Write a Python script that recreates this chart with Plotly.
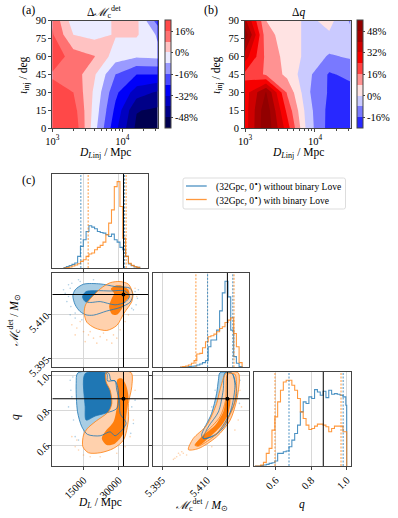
import numpy as np
import plotly.graph_objects as go

W = 398
H = 518
SERIF = "Liberation Serif"
BLUE = "#1f77b4"
ORANGE = "#ff7f0e"
BLUE_LINE = "rgba(31,119,180,0.8)"
ORANGE_LINE = "rgba(255,127,14,0.8)"
BLUE_FILL = "#a8cde4"
ORANGE_FILL = "#ffd1ad"
FRAME = "#444444"

# ---- heatmap panels
dist_inj = [1000, 2000, 4000, 8000, 16000, 32000]
incl_inj = [0, 15, 30, 45, 60, 78, 90]
delta_mc = [
    [20, 23, -5, -30, -50, -53],
    [20, 20, -3, -26, -47.5, -49.5],
    [19, 16, -1.5, -22, -36, -41],
    [15, 13, 1, -16, -24, -24],
    [22, 12, 8.3, -4, -7, -6],
    [17, 0, -2.5, 0.6, 1, -9],
    [15, -4.5, -4, 1, 2, -20],
]
delta_q = [
    [28, 55, 28, -4, -19, -19],
    [28, 54, 22, -5, -18.5, -19],
    [28, 48.5, 15, -7, -17, -19],
    [22, 15, 6, -6, -17, -14],
    [36, 14, 5, -2.5, -9, -7],
    [54, 11, 4, -2, -1, -6],
    [42, 8, 4, -2, 2.7, -9],
]
mc_ticks = [16, 0, -16, -32, -48]
q_ticks = [48, 32, 16, 0, -16]
minor_dist = [2000, 3000, 4000, 5000, 6000, 7000, 8000, 9000, 20000, 30000]

# ---- corner panels: truth and credible bounds
truth_dl = 32000
truth_mc = 5.4168
truth_q = 0.868
dl_bounds_blue = [13870, 32400]
dl_bounds_orange = [16980, 33100]
mc_bounds_blue = [5.4102, 5.4186]
mc_bounds_orange = [5.4063, 5.4190]
q_bounds_blue = [0.675, 0.98]
q_bounds_orange = [0.596, 0.968]
legend_names = ["(32Gpc, 0<sup>∘</sup>) without binary Love", "(32Gpc, 0<sup>∘</sup>) with binary Love"]

# ---- 1d histograms
dl_edges = [6500, 7700, 8900, 10100, 11300, 12500, 13700, 14900, 16100, 17300, 18500, 19700, 20900, 22100,
            23300, 24500, 25700, 26900, 28100, 29300, 30500, 31700, 32900, 34100, 35300, 36500, 37700, 38900]
dl_blue = [1, 4, 7, 11, 15, 35, 65, 85, 110, 127, 123, 118, 110, 107, 105, 100, 95, 102, 85, 78, 62, 55, 35, 12, 7, 3, 2, 0]
dl_orange = [0, 1, 3, 6, 9, 13, 20, 25, 35, 42, 45, 55, 62, 68, 78, 100, 135, 175, 245, 260, 185, 90, 35, 14, 8, 4, 2, 0]

mc_edges = [5.4010, 5.4019, 5.4029, 5.4038, 5.4048, 5.4057, 5.4066, 5.4076, 5.4085, 5.4095, 5.4104, 5.4113,
            5.4123, 5.4132, 5.4142, 5.4151, 5.4160, 5.4170, 5.4179, 5.4189, 5.4198, 5.4207, 5.4217]
mc_blue = [0, 0, 1, 2, 3, 4, 7, 10, 14, 20, 62, 82, 82, 112, 170, 224, 259, 212, 112, 32, 12, 2, 0]
mc_orange = [1, 2, 4, 7, 12, 20, 40, 42, 59, 77, 92, 95, 100, 107, 117, 122, 135, 142, 149, 102, 62, 14, 1]

q_edges = [0.483, 0.499, 0.515, 0.531, 0.547, 0.563, 0.579, 0.595, 0.611, 0.627, 0.643, 0.659, 0.675, 0.691, 0.707, 0.723, 0.739,
           0.755, 0.771, 0.787, 0.803, 0.819, 0.835, 0.851, 0.867, 0.883, 0.899, 0.915, 0.931, 0.947, 0.963, 0.979, 0.995, 1.0, 1.0]
q_blue = [0, 0, 1, 3, 5, 8, 10, 15, 38, 38, 43, 45, 58, 78, 98, 123, 163, 193, 188, 208, 203, 230, 223, 213, 225, 206, 228,
          216, 218, 216, 213, 208, 183, 100, 0]
q_orange = [0, 0, 3, 11, 38, 53, 108, 148, 193, 228, 253, 258, 258, 243, 228, 203, 163, 143, 123, 110, 113, 120, 126, 126,
            123, 118, 103, 113, 120, 120, 120, 103, 103, 103, 0]

# ---- 2d credible regions (dl, mc)
dm_blue_outer_x = [10470, 11460, 15000, 22080, 28440, 34810, 35940, 34810, 30570, 24900, 19250, 16130, 13580, 11460]
dm_blue_outer_y = [5.4164, 5.4184, 5.4203, 5.4204, 5.4195, 5.4189, 5.4167, 5.4142, 5.4124, 5.4112, 5.4098, 5.4099, 5.4110, 5.4133]
dm_blue_inner_x = [14580, 16130, 20660, 26320, 32690, 34530, 32690, 28440, 22080, 18110, 15710]
dm_blue_inner_y = [5.4161, 5.4178, 5.4181, 5.4180, 5.4180, 5.4161, 5.4142, 5.4133, 5.4144, 5.4141, 5.4144]
dm_orange_outer_x = [15280, 15850, 17830, 22080, 26320, 30570, 34100, 35940, 35520, 32260, 29150, 24900, 19950, 16420]
dm_orange_outer_y = [5.4105, 5.4133, 5.4153, 5.4187, 5.4208, 5.4212, 5.4203, 5.4172, 5.4144, 5.4105, 5.4063, 5.4046, 5.4054, 5.4074]
dm_orange_inner_x = [26600, 28440, 31270, 34100, 34530, 32690, 31270, 29150, 27030, 25900, 27030, 28020]
dm_orange_inner_y = [5.4187, 5.4198, 5.4198, 5.4184, 5.4161, 5.4144, 5.4119, 5.4099, 5.4102, 5.4127, 5.4155, 5.4172]

# (dl, q)
dq_blue_outer_x = [12590, 25610, 26600, 28440, 29150, 30280, 30570, 33110, 28440, 26320, 22080, 16700, 14290, 12450, 11890]
dq_blue_outer_y = [1.017, 1.017, 0.975, 0.971, 0.917, 0.860, 0.783, 0.725, 0.654, 0.677, 0.654, 0.662, 0.706, 0.793, 0.956]
dq_blue_inner_x = [15710, 24900, 25190, 28440, 29860, 29150, 24900, 19950, 16130, 15710]
dq_blue_inner_y = [1.013, 1.013, 0.971, 0.971, 0.908, 0.812, 0.787, 0.768, 0.745, 0.821]
dq_orange_outer_x = [24620, 24620, 26320, 27030, 25610, 19950, 16700, 15000, 14720, 17120, 22080, 27740, 31980, 34100, 34100, 35520, 35230]
dq_orange_outer_y = [1.019, 0.965, 0.917, 0.841, 0.793, 0.735, 0.697, 0.658, 0.591, 0.556, 0.556, 0.581, 0.629, 0.745, 0.841, 0.937, 1.019]
dq_orange_inner_x = [29430, 31270, 33110, 34100, 33110, 31980, 28440, 24900, 22780, 24200, 27740, 29150, 29430]
dq_orange_inner_y = [0.979, 0.985, 0.946, 0.879, 0.764, 0.668, 0.610, 0.601, 0.639, 0.677, 0.735, 0.821, 0.917]

# (mc, q)
mq_blue_outer_x = [5.4143, 5.4165, 5.4184, 5.4199, 5.4182, 5.4132, 5.4088, 5.4082, 5.4115, 5.4132, 5.4138]
mq_blue_outer_y = [1.0175, 1.021, 1.0136, 0.898, 0.802, 0.667, 0.638, 0.657, 0.782, 0.898, 0.975]
mq_blue_inner_x = [5.4088, 5.4127, 5.4160, 5.4184, 5.4193, 5.4184, 5.4160, 5.4154, 5.4138, 5.4104]
mq_blue_inner_y = [0.638, 0.657, 0.715, 0.831, 0.946, 1.014, 1.018, 0.917, 0.792, 0.705]
mq_orange_outer_x = [5.4038, 5.4054, 5.4099, 5.4132, 5.4143, 5.4165, 5.4204, 5.4208, 5.4199, 5.4177, 5.4132, 5.4071]
mq_orange_outer_y = [0.574, 0.638, 0.715, 0.840, 0.917, 1.018, 1.018, 0.975, 0.860, 0.744, 0.648, 0.580]
mq_orange_inner_x = [5.4060, 5.4093, 5.4143, 5.4162, 5.4169, 5.4193, 5.4198, 5.4188, 5.4160, 5.4121, 5.4071]
mq_orange_inner_y = [0.599, 0.667, 0.763, 0.860, 1.010, 1.010, 0.937, 0.821, 0.725, 0.648, 0.594]
mq_orange_core_x = [5.4060, 5.4088, 5.4127, 5.4154, 5.4166, 5.4177, 5.4171, 5.4149, 5.4110, 5.4071]
mq_orange_core_y = [0.599, 0.657, 0.715, 0.792, 0.869, 0.869, 0.782, 0.715, 0.648, 0.594]

# ---- stray samples outside the contours
dm_dots_blue_x = [7220, 8630, 9340, 7930, 10050, 8630, 13580, 11460, 9620, 6510, 36930, 37920, 37360, 38350, 36220, 14290, 11460, 9340, 12880, 19250, 30570, 35520]
dm_dots_blue_y = [5.4172, 5.4161, 5.4189, 5.4144, 5.4206, 5.4201, 5.4212, 5.4105, 5.4127, 5.4184, 5.4178, 5.4155, 5.4133, 5.4184, 5.4116, 5.4082, 5.4088, 5.4099, 5.4218, 5.4218, 5.4105, 5.4121]
dm_dots_orange_x = [13580, 12170, 15000, 17120, 19250, 22080, 24900, 27740, 30570, 32690, 34100, 14290, 15710, 20660, 23490, 17830, 27030, 29150, 36930, 37640, 10050, 11460]
dm_dots_orange_y = [5.4076, 5.4054, 5.4042, 5.4031, 5.4020, 5.4025, 5.4014, 5.4031, 5.4048, 5.4076, 5.4099, 5.4110, 5.4008, 5.4003, 5.4037, 5.4042, 5.4003, 5.4020, 5.4189, 5.4161, 5.4065, 5.4031]
dq_dots_blue_x = [9340, 10050, 8630, 10760, 11460, 35520, 36220, 36930, 35090, 9620, 10470, 12880]
dq_dots_blue_y = [0.975, 0.879, 0.821, 0.745, 0.649, 0.821, 0.725, 0.860, 0.668, 0.917, 0.994, 0.629]
dq_dots_orange_x = [12170, 12880, 15000, 17830, 22080, 11460, 36220, 34810, 32690, 29150, 10050, 36930]
dq_dots_orange_y = [0.629, 0.572, 0.543, 0.533, 0.533, 0.591, 0.745, 0.649, 0.591, 0.553, 0.649, 0.917]
mq_dots_blue_x = [5.4127, 5.4116, 5.4093, 5.4077, 5.4210, 5.4208]
mq_dots_blue_y = [0.917, 0.821, 0.706, 0.658, 0.975, 0.841]
mq_dots_orange_x = [5.3988, 5.3999, 5.4010, 5.4021, 5.3993, 5.4016, 5.4032, 5.4005, 5.4210, 5.4215, 5.4204, 5.4193, 5.4116]
mq_dots_orange_y = [0.518, 0.533, 0.543, 0.553, 0.524, 0.562, 0.543, 0.553, 0.917, 0.821, 0.745, 0.687, 0.591]


def dom_x(a, b):
    return [a / W, b / W]


def dom_y(a, b):
    return [1 - b / H, 1 - a / H]


def seismic_scale(lo, hi):
    # matplotlib seismic, cut down to the lo..hi part of -56..56
    nodes = [(-56, (0, 0, 77)), (-28, (0, 0, 255)), (0, (255, 255, 255)), (28, (255, 0, 0)), (56, (128, 0, 0))]
    vals = [lo] + [n[0] for n in nodes if lo < n[0] < hi] + [hi]
    scale = []
    for v in vals:
        rgb = [np.interp(v, [n[0] for n in nodes], [n[1][c] for n in nodes]) for c in range(3)]
        scale.append([(v - lo) / (hi - lo), "rgb(%d,%d,%d)" % tuple(rgb)])
    return scale


fig = go.Figure()
AX = dict(showline=True, mirror=True, linecolor=FRAME, linewidth=1, zeroline=False,
          tickfont=dict(family=SERIF, size=10.5, color="black"), ticklen=3, tickwidth=1,
          tickcolor=FRAME, ticks="outside", automargin=False)


def heat_panel(n, px, z, lo, hi, ticks, cb_x):
    xname = "x%d" % n
    yname = "y%d" % n
    fig.add_trace(go.Contour(
        x=np.log10(dist_inj), y=incl_inj, z=z, xaxis=xname, yaxis=yname,
        # plotly stretches the scale over start - 4 .. end + 4 and paints each band at its middle
        zmin=lo, zmax=hi, colorscale=seismic_scale(lo - 4, hi - 4),
        contours=dict(start=lo, end=hi - 8, size=8, coloring="fill", showlines=False),
        line=dict(width=0, smoothing=0), hoverinfo="skip",
        colorbar=dict(x=cb_x / W, xanchor="left", y=1 - 128.3 / H, yanchor="bottom", len=107.8 / H,
                      thickness=6, xpad=0, ypad=0, outlinecolor=FRAME, outlinewidth=1,
                      tickvals=ticks, ticktext=["%d%%" % t for t in ticks], ticks="outside", ticklen=2,
                      tickfont=dict(family=SERIF, size=10.5, color="black")),
    ))
    fig.update_layout({
        "xaxis%d" % n: dict(AX, domain=dom_x(*px), range=[3, np.log10(32700)], tickvals=[3, 4],
                            ticktext=["10<sup>3</sup>", "10<sup>4</sup>"],
                            minor=dict(tickvals=list(np.log10(minor_dist)), ticks="outside", ticklen=2, tickcolor=FRAME),
                            anchor=yname),
        "yaxis%d" % n: dict(AX, domain=dom_y(20.5, 128.3), range=[0, 90], tickvals=[0, 15, 30, 45, 60, 75, 90], anchor=xname),
    })


heat_panel(1, (52.3, 158.3), delta_mc, -56, 24, mc_ticks, 165)
heat_panel(2, (245, 351), delta_q, -24, 56, q_ticks, 357)

COLS = [(52.3, 148.3), (153.3, 249.3), (254.3, 350.7)]
ROWS = [(174, 268), (273, 367.3), (372, 466)]
DL_RANGE = [1730, 42550]
MC_RANGE = [5.3921, 5.4241]
Q_RANGE = [0.4795, 1.0225]
DL_TICKS = [15000, 30000]
MC_TICKS = [5.395, 5.410]
Q_TICKS = [0.6, 0.8, 1.0]
GRID = dict(showgrid=True, gridcolor="#d8d8d8", gridwidth=1, tickangle=-45)


def corner_axes(n, col, row, xr, xt, yr, yt, xlab, ylab, xfmt, yfmt):
    xname = "x%d" % n
    yname = "y%d" % n
    fig.update_layout({
        "xaxis%d" % n: dict(AX, **GRID, domain=dom_x(*COLS[col]), range=xr, tickvals=xt, tickformat=xfmt,
                            showticklabels=xlab, anchor=yname),
        "yaxis%d" % n: dict(AX, **GRID, domain=dom_y(*ROWS[row]), range=yr, tickvals=yt, tickformat=yfmt,
                            showticklabels=ylab, anchor=xname),
    })


def hist_panel(n, col, edges, blue, orange, xr, xt, xlab, fmt, bounds_blue, bounds_orange, truth, y_max):
    corner_axes(n, col, col, xr, xt, [0, y_max], [], xlab, False, fmt, "")
    fig.update_layout({"yaxis%d" % n: dict(ticks="", showgrid=False)})
    ax = dict(xaxis="x%d" % n, yaxis="y%d" % n, mode="lines", line_shape="hv", hoverinfo="skip", showlegend=False)
    fig.add_trace(go.Scatter(x=edges, y=blue, line=dict(color=BLUE_LINE, width=1.1), **ax))
    fig.add_trace(go.Scatter(x=edges, y=orange, line=dict(color=ORANGE_LINE, width=1.1), **ax))
    for v in bounds_blue:
        fig.add_shape(type="line", x0=v, x1=v, y0=0, y1=y_max, xref="x%d" % n, yref="y%d" % n,
                      line=dict(color=BLUE_LINE, width=1, dash="2px,1.5px"))
    for v in bounds_orange:
        fig.add_shape(type="line", x0=v, x1=v, y0=0, y1=y_max, xref="x%d" % n, yref="y%d" % n,
                      line=dict(color=ORANGE_LINE, width=1, dash="2px,1.5px"))
    fig.add_shape(type="line", x0=truth, x1=truth, y0=0, y1=y_max, xref="x%d" % n, yref="y%d" % n,
                  line=dict(color="black", width=1))


def dots(n, xv, yv, color):
    fig.add_trace(go.Scatter(x=xv, y=yv, xaxis="x%d" % n, yaxis="y%d" % n, mode="markers", showlegend=False, hoverinfo="skip",
                             marker=dict(color=color, size=1.6, opacity=0.35, line_width=0)))


def region(n, xv, yv, fill=None, line=None):
    xc = list(xv) + [xv[0]]
    yc = list(yv) + [yv[0]]
    fig.add_trace(go.Scatter(x=xc, y=yc, xaxis="x%d" % n, yaxis="y%d" % n, mode="lines", showlegend=False, hoverinfo="skip",
                             line=dict(color=line or "rgba(0,0,0,0)", width=1, shape="spline", smoothing=0.8),
                             fill="toself" if fill else "none", fillcolor=fill))


def truth_cross(n, xv, yv, xr, yr):
    fig.add_shape(type="line", x0=xv, x1=xv, y0=yr[0], y1=yr[1], xref="x%d" % n, yref="y%d" % n, line=dict(color="black", width=1))
    fig.add_shape(type="line", x0=xr[0], x1=xr[1], y0=yv, y1=yv, xref="x%d" % n, yref="y%d" % n, line=dict(color="black", width=1))
    fig.add_trace(go.Scatter(x=[xv], y=[yv], xaxis="x%d" % n, yaxis="y%d" % n, mode="markers", showlegend=False, hoverinfo="skip",
                             marker=dict(color="black", size=4)))


hist_panel(3, 0, dl_edges, dl_blue, dl_orange, DL_RANGE, DL_TICKS, False, "d", dl_bounds_blue, dl_bounds_orange, truth_dl, 283)
hist_panel(4, 1, mc_edges, mc_blue, mc_orange, MC_RANGE, MC_TICKS, False, ".3f", mc_bounds_blue, mc_bounds_orange, truth_mc, 284)
hist_panel(5, 2, q_edges, q_blue, q_orange, Q_RANGE, Q_TICKS, True, ".1f", q_bounds_blue, q_bounds_orange, truth_q, 283)

corner_axes(6, 0, 1, DL_RANGE, DL_TICKS, MC_RANGE, MC_TICKS, False, True, "d", ".3f")
dots(6, dm_dots_blue_x, dm_dots_blue_y, BLUE)
dots(6, dm_dots_orange_x, dm_dots_orange_y, ORANGE)
region(6, dm_blue_outer_x, dm_blue_outer_y, fill=BLUE_FILL)
region(6, dm_blue_inner_x, dm_blue_inner_y, fill=BLUE)
region(6, dm_orange_outer_x, dm_orange_outer_y, fill=ORANGE_FILL)
region(6, dm_orange_inner_x, dm_orange_inner_y, fill=ORANGE)
region(6, dm_blue_outer_x, dm_blue_outer_y, line=BLUE_LINE)
region(6, dm_blue_inner_x, dm_blue_inner_y, line=BLUE_LINE)
region(6, dm_orange_outer_x, dm_orange_outer_y, line=ORANGE_LINE)
truth_cross(6, truth_dl, truth_mc, DL_RANGE, MC_RANGE)

corner_axes(7, 0, 2, DL_RANGE, DL_TICKS, Q_RANGE, Q_TICKS, True, True, "d", ".1f")
dots(7, dq_dots_blue_x, dq_dots_blue_y, BLUE)
dots(7, dq_dots_orange_x, dq_dots_orange_y, ORANGE)
region(7, dq_blue_outer_x, dq_blue_outer_y, fill=BLUE_FILL)
region(7, dq_blue_inner_x, dq_blue_inner_y, fill=BLUE)
region(7, dq_orange_outer_x, dq_orange_outer_y, fill=ORANGE_FILL)
region(7, dq_orange_inner_x, dq_orange_inner_y, fill=ORANGE)
region(7, dq_blue_outer_x, dq_blue_outer_y, line=BLUE_LINE)
region(7, dq_blue_inner_x, dq_blue_inner_y, line=BLUE_LINE)
region(7, dq_orange_outer_x, dq_orange_outer_y, line=ORANGE_LINE)
truth_cross(7, truth_dl, truth_q, DL_RANGE, Q_RANGE)

corner_axes(8, 1, 2, MC_RANGE, MC_TICKS, Q_RANGE, Q_TICKS, True, False, ".3f", ".1f")
dots(8, mq_dots_blue_x, mq_dots_blue_y, BLUE)
dots(8, mq_dots_orange_x, mq_dots_orange_y, ORANGE)
region(8, mq_blue_outer_x, mq_blue_outer_y, fill=BLUE_FILL)
region(8, mq_orange_outer_x, mq_orange_outer_y, fill=ORANGE_FILL)
region(8, mq_orange_core_x, mq_orange_core_y, fill=ORANGE)
region(8, mq_blue_outer_x, mq_blue_outer_y, line=BLUE_LINE)
region(8, mq_blue_inner_x, mq_blue_inner_y, line=BLUE_LINE)
region(8, mq_orange_outer_x, mq_orange_outer_y, line=ORANGE_LINE)
region(8, mq_orange_inner_x, mq_orange_inner_y, line=ORANGE_LINE)
truth_cross(8, truth_mc, truth_q, MC_RANGE, Q_RANGE)

MC_LABEL = "<i>ℳ</i><sub>c</sub><sup>det</sup> / <i>M</i><sub>⊙</sub>"


def text(x, y, s, size=11.5, angle=0, anchor="center"):
    fig.add_annotation(x=x / W, y=1 - y / H, xref="paper", yref="paper", text=s, showarrow=False, textangle=angle,
                       xanchor=anchor, yanchor="middle", font=dict(family=SERIF, size=size, color="black"))


text(28, 10, "(a)", 12)
text(211, 10, "(b)", 12)
text(28, 180, "(c)", 12)
text(105, 12, "Δ" + "<i>ℳ</i><sub>c</sub><sup>det</sup>", 11.5)
text(298, 13, "Δ<i>q</i>", 11.5)
text(105, 153, "<i>D</i><sub><i>L</i>inj</sub> / Mpc", 11.5)
text(298, 153, "<i>D</i><sub><i>L</i>inj</sub> / Mpc", 11.5)
text(24, 75, "<i>ι</i><sub>inj</sub> / deg", 11.5, -90)
text(217, 75, "<i>ι</i><sub>inj</sub> / deg", 11.5, -90)
text(14, 320, MC_LABEL, 11.5, -90)
text(15, 417, "<i>q</i>", 11.5, -90)
text(100, 503, "<i>D</i><sub><i>L</i></sub> / Mpc", 11.5)
text(202, 505, MC_LABEL, 11.5)
text(302, 504, "<i>q</i>", 11.5)

# legend box: plotly's own legend rows are too tall for this spacing
x0, x1, y0, y1 = 183 / W, 345.5 / W, 1 - 209 / H, 1 - 178 / H
rx, ry = 2 / W, 2 / H
fig.add_shape(type="path", xref="paper", yref="paper", fillcolor="white", line=dict(color="#dddddd", width=1),
              path=f"M {x0+rx} {y0} L {x1-rx} {y0} Q {x1} {y0} {x1} {y0+ry} L {x1} {y1-ry} Q {x1} {y1} {x1-rx} {y1} "
                   f"L {x0+rx} {y1} Q {x0} {y1} {x0} {y1-ry} L {x0} {y0+ry} Q {x0} {y0} {x0+rx} {y0} Z")
fig.add_shape(type="line", xref="paper", yref="paper", x0=186 / W, x1=206.7 / W, y0=1 - 186 / H, y1=1 - 186 / H,
              line=dict(color=BLUE_LINE, width=1.3))
fig.add_shape(type="line", xref="paper", yref="paper", x0=186 / W, x1=206.7 / W, y0=1 - 199.5 / H, y1=1 - 199.5 / H,
              line=dict(color=ORANGE_LINE, width=1.3))
text(213.5, 186.5, legend_names[0], 9.5, anchor="left")
text(213.5, 200, legend_names[1], 9.5, anchor="left")

fig.update_layout(
    width=W, height=H, margin=dict(l=0, r=0, t=0, b=0), paper_bgcolor="white", plot_bgcolor="white",
    font=dict(family=SERIF, color="black"), showlegend=False,
)

fig.write_html("out.html", config=dict(displayModeBar=False), post_script="document.body.style.margin='0'")
